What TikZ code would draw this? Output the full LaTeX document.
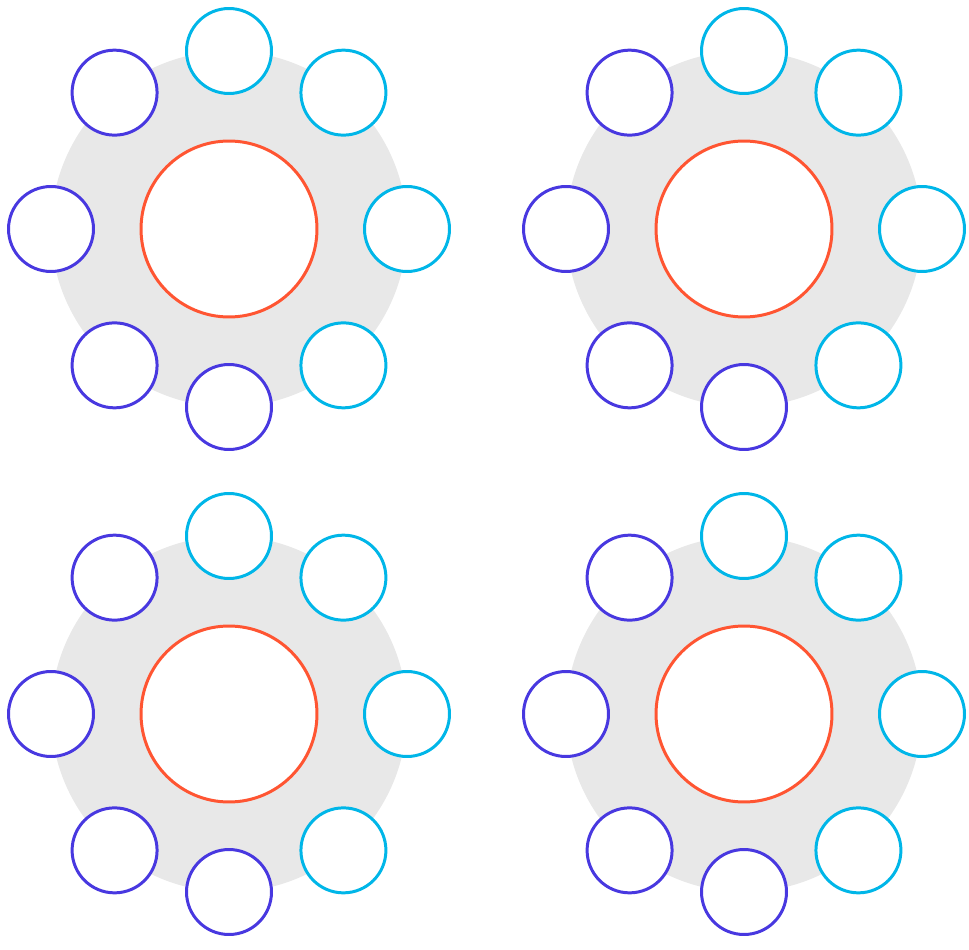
\documentclass[tikz,border=0pt]{standalone}
\usepackage{tikz}
\usetikzlibrary{calc}

\definecolor{ringgray}{RGB}{232,232,232}
\definecolor{hubred}{RGB}{255,85,50}
\definecolor{seatcyan}{RGB}{0,182,232}
\definecolor{seatviolet}{RGB}{72,56,224}

\tikzset{
  ring/.style={circle,fill=ringgray,inner sep=0pt,minimum size=7.12cm},
  hub/.style={circle,draw=hubred,fill=white,line width=1.7pt,inner sep=0pt,minimum size=3.52cm},
  seat/.style={circle,fill=white,line width=1.7pt,inner sep=0pt,minimum size=1.7cm}
}

\begin{document}
\begin{tikzpicture}[x=0.02cm,y=-0.02cm]
\useasboundingbox (0,0) rectangle (969,949);

\foreach \g/\cx/\cy in {1/229/229,2/744/229,3/229/714,4/744/714}{
  \node[ring] (R\g) at (\cx,\cy) {};
  \node[hub]  (H\g) at (\cx,\cy) {};
  % seats round the table
  \foreach \k/\a/\c in {1/-90/seatcyan,2/-50/seatcyan,3/0/seatcyan,4/50/seatcyan,
                        5/90/seatviolet,6/130/seatviolet,7/180/seatviolet,8/230/seatviolet}{
    \node[seat,draw=\c] (S\g-\k) at ($(R\g)+(\a:178)$) {};
  }
}
\end{tikzpicture}
\end{document}
